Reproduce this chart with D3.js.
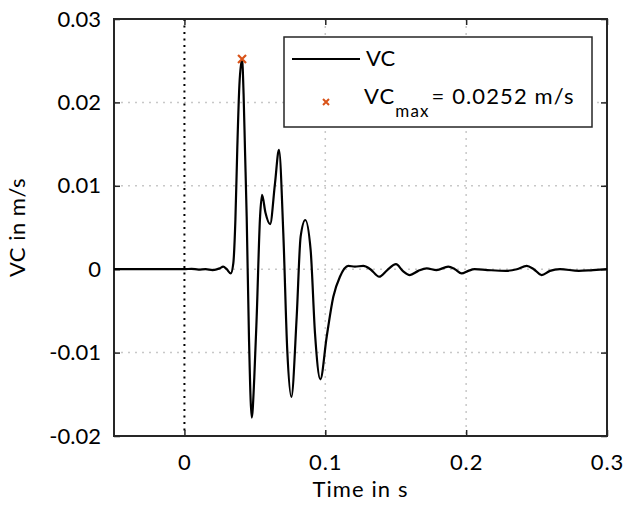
<!DOCTYPE html>
<html><head><meta charset="utf-8">
<script src="https://cdn.jsdelivr.net/npm/d3@7"></script>
<style>
html,body{margin:0;padding:0;background:#fff;}
text{font-family:Lato,"Open Sans",sans-serif;fill:#000;}
</style></head>
<body>
<svg id="c" width="627" height="508"></svg>
<script>
const timeS = [-0.05,-0.04,-0.03,-0.02,-0.01,0.0,0.005,0.01,0.015,0.02,0.025,0.0275,0.030,0.0329,0.0347,0.0362,0.0375,0.039,0.0409,0.0420,0.0430,0.0442,0.0458,0.0478,0.0496,0.0513,0.0537,0.0551,0.0575,0.0608,0.0643,0.0671,0.0702,0.0730,0.0759,0.0797,0.0825,0.0858,0.0896,0.0927,0.0965,0.1010,0.1057,0.1104,0.1163,0.121,0.127,0.132,0.1383,0.144,0.1502,0.155,0.160,0.166,0.172,0.179,0.1873,0.192,0.1968,0.2015,0.206,0.215,0.228,0.236,0.243,0.248,0.2536,0.2595,0.2666,0.280,0.290,0.300];
const vcValues = [0,0,0,0,0,0,0.00005,-0.00005,0,-0.0001,0.0001,0.0003,0.0,-0.0005,0.0007,0.006,0.0143,0.022,0.0252,0.021,0.0143,0.0063,-0.008,-0.0178,-0.013,-0.0057,0.0063,0.0089,0.0068,0.0054,0.0103,0.0143,0.0043,-0.0097,-0.0153,-0.0057,0.0039,0.0059,0.0023,-0.0077,-0.0132,-0.0081,-0.0033,-0.0009,0.0004,0.0003,0.0004,0.0,-0.0009,-0.0001,0.0006,-0.0002,-0.0007,-0.0002,0.0001,-0.0001,0.0003,0.0,-0.0005,-0.0002,0.0,-0.0001,-0.0002,0.0,0.0004,0.0,-0.0007,-0.0002,0.0,-0.0002,-0.0001,0.0];
const vcMax = {t:0.0409, v:0.0252};
const xTicks = [0,0.1,0.2,0.3];
const yTicks = [-0.02,-0.01,0,0.01,0.02,0.03];
const xLabel = "Time in s", yLabel = "VC in m/s";

const svg = d3.select("#c");
const L=114, R=607, T=19, B=436;
const x = d3.scaleLinear().domain([-0.05,0.3]).range([L,R]);
const y = d3.scaleLinear().domain([-0.02,0.03]).range([B,T]);
const ax="#262626";

// grid
const g = svg.append("g");
g.selectAll(".gx").data(xTicks.filter(d=>d!==0)).enter().append("line")
 .attr("x1",d=>x(d)).attr("x2",d=>x(d)).attr("y1",T).attr("y2",B)
 .attr("stroke","#c8c8c8").attr("stroke-width",1.5).attr("stroke-dasharray","2,5");
g.selectAll(".gy").data(yTicks).enter().append("line")
 .attr("y1",d=>y(d)).attr("y2",d=>y(d)).attr("x1",L).attr("x2",R)
 .attr("stroke","#c8c8c8").attr("stroke-width",1.5).attr("stroke-dasharray","2,5");
// zero vertical dotted black
svg.append("line").attr("x1",x(0)).attr("x2",x(0)).attr("y1",T).attr("y2",B)
 .attr("stroke","#000").attr("stroke-width",2).attr("stroke-dasharray","2,4.5");

// axes with inward ticks
const xb = svg.append("g").attr("transform",`translate(0,${B})`).call(d3.axisBottom(x).tickValues(xTicks).tickSizeInner(-6).tickSizeOuter(0).tickPadding(18).tickFormat(d=>d));
const xt = svg.append("g").attr("transform",`translate(0,${T})`).call(d3.axisTop(x).tickValues(xTicks).tickSizeInner(-6).tickSizeOuter(0).tickFormat(""));
const yl = svg.append("g").attr("transform",`translate(${L},0)`).call(d3.axisLeft(y).tickValues(yTicks).tickSizeInner(-6).tickSizeOuter(0).tickPadding(13).tickFormat(d=>d));
const yr = svg.append("g").attr("transform",`translate(${R},0)`).call(d3.axisRight(y).tickValues(yTicks).tickSizeInner(-6).tickSizeOuter(0).tickFormat(""));
[xb,xt,yl,yr].forEach(a=>{a.select(".domain").remove();a.selectAll("line").attr("stroke",ax).attr("stroke-width",1.5);
 a.selectAll("text").style("font-family","Lato").style("font-size","22px").attr("fill","#000");});
xb.selectAll("text").style("letter-spacing","0.9px");
svg.append("rect").attr("x",L).attr("y",T).attr("width",R-L).attr("height",B-T)
 .attr("fill","none").attr("stroke",ax).attr("stroke-width",2);

// curve
const data = timeS.map((t,i)=>({t,v:vcValues[i]}));
svg.append("path").datum(data).attr("fill","none").attr("stroke","#000").attr("stroke-width",2.2)
 .attr("stroke-linejoin","round")
 .attr("d",d3.line().x(d=>x(d.t)).y(d=>y(d.v)).curve(d3.curveMonotoneX));

function cross(sel,cx,cy,s,w){
  sel.append("path").attr("d",`M${cx-s},${cy-s}L${cx+s},${cy+s}M${cx-s},${cy+s}L${cx+s},${cy-s}`)
   .attr("stroke","#D95319").attr("stroke-width",w).attr("fill","none");
}
cross(svg,x(vcMax.t),y(vcMax.v),4,2.2);

// legend
const lg = svg.append("g");
lg.append("rect").attr("x",284).attr("y",37).attr("width",308).attr("height",90)
 .attr("fill","#fff").attr("stroke",ax).attr("stroke-width",1.5);
lg.append("line").attr("x1",292).attr("x2",360).attr("y1",59).attr("y2",59).attr("stroke","#000").attr("stroke-width",2.2);
lg.append("text").attr("x",366).attr("y",66).style("font-size","22px").text("VC");
cross(lg,326,102,3,2);
const t2 = lg.append("text").attr("x",364).attr("y",104).style("font-size","22px").style("letter-spacing","1.1px");
t2.append("tspan").text("VC");
t2.append("tspan").attr("dy",13).style("font-size","17px").text("max");
t2.append("tspan").attr("dy",-13).attr("dx",2).text("= " + vcMax.v + " m/s");

// axis labels
svg.append("text").attr("x",(L+R)/2).attr("y",497).attr("text-anchor","middle").style("font-size","22px").style("letter-spacing","1.1px").text(xLabel);
svg.append("text").attr("transform",`translate(25,${(T+B)/2}) rotate(-90)`).attr("text-anchor","middle").style("font-size","22px").style("letter-spacing","0.5px").text(yLabel);
</script>
</body></html>
